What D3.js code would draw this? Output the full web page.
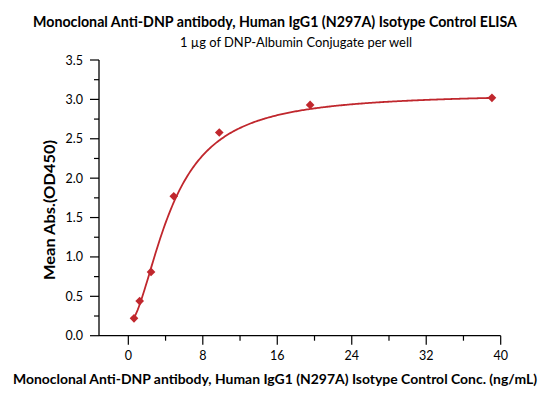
<!DOCTYPE html>
<html>
<head>
<meta charset="utf-8">
<script src="https://cdn.jsdelivr.net/npm/d3@7"></script>
<style>
  html, body { margin: 0; padding: 0; background: #fff; }
  svg { display: block; font-family: Lato, "Open Sans", sans-serif; }
</style>
</head>
<body>
<svg id="chart" width="550" height="393"></svg>
<script>
// ---- data ----
const concentrations = [0.61, 1.22, 2.44, 4.88, 9.77, 19.53, 39.06]; // ng/mL
const meanAbs = [0.22, 0.44, 0.81, 1.77, 2.58, 2.93, 3.02];          // OD450
// 4-parameter logistic fit: bottom, hill slope, EC50, top
const fitBottom = [0.15];
const fitHill = [1.8];
const fitEC50 = [4.6];
const fitTop = [3.08];
const xTicks = [0, 8, 16, 24, 32, 40];
const yTicks = [0.0, 0.5, 1.0, 1.5, 2.0, 2.5, 3.0, 3.5];
const titleText = "Monoclonal Anti-DNP antibody, Human IgG1 (N297A) Isotype Control ELISA";
const subtitleText = "1 \u00b5g of DNP-Albumin Conjugate per well";
const xTitle = "Monoclonal Anti-DNP antibody, Human IgG1 (N297A) Isotype Control Conc. (ng/mL)";
const yTitle = "Mean Abs.(OD450)";

const svg = d3.select("#chart");
const red = "#c0272d";

const x = d3.scaleLinear().domain([-3.15, 40]).range([99, 500.7]);
const y = d3.scaleLinear().domain([0, 3.5]).range([335.7, 60]);

// titles
svg.append("text").attr("x", 275).attr("y", 27).attr("text-anchor", "middle")
  .attr("font-weight", "bold").attr("font-size", 15)
  .attr("textLength", 484).attr("lengthAdjust", "spacingAndGlyphs")
  .text(titleText);
svg.append("text").attr("x", 296).attr("y", 47).attr("text-anchor", "middle")
  .attr("font-size", 12.5)
  .attr("textLength", 232).attr("lengthAdjust", "spacingAndGlyphs")
  .text(subtitleText);

// x axis
const xAxisG = svg.append("g").attr("transform", `translate(0,${y(0)})`);
xAxisG.append("line").attr("x1", x.range()[0]).attr("x2", x.range()[1])
  .attr("stroke", "#000").attr("stroke-width", 1.3);
const xMinor = d3.range(4, 40, 8);
xAxisG.selectAll(".xminor").data(xMinor).join("line")
  .attr("x1", d => x(d)).attr("x2", d => x(d)).attr("y1", 0).attr("y2", 5)
  .attr("stroke", "#000").attr("stroke-width", 1.2);
xAxisG.selectAll(".xmajor").data(xTicks).join("line")
  .attr("x1", d => x(d)).attr("x2", d => x(d)).attr("y1", 0).attr("y2", 9)
  .attr("stroke", "#000").attr("stroke-width", 1.2);
xAxisG.selectAll(".xlab").data(xTicks).join("text")
  .attr("x", d => x(d)).attr("y", 24).attr("text-anchor", "middle")
  .attr("font-size", 12.5).text(d => d3.format("d")(d));

// y axis
const yAxisG = svg.append("g").attr("transform", `translate(${x.range()[0]},0)`);
yAxisG.append("line").attr("y1", y(0)).attr("y2", y(3.5))
  .attr("stroke", "#000").attr("stroke-width", 1.3);
const yMinor = d3.range(0.25, 3.5, 0.5);
yAxisG.selectAll(".yminor").data(yMinor).join("line")
  .attr("x1", -5).attr("x2", 0).attr("y1", d => y(d)).attr("y2", d => y(d))
  .attr("stroke", "#000").attr("stroke-width", 1.2);
yAxisG.selectAll(".ymajor").data(yTicks).join("line")
  .attr("x1", -9).attr("x2", 0).attr("y1", d => y(d)).attr("y2", d => y(d))
  .attr("stroke", "#000").attr("stroke-width", 1.2);
yAxisG.selectAll(".ylab").data(yTicks).join("text")
  .attr("x", -16).attr("y", d => y(d) + 4.5).attr("text-anchor", "end")
  .attr("font-size", 12.5).text(d => d3.format(".1f")(d));

// axis titles
svg.append("text").attr("x", 275).attr("y", 384).attr("text-anchor", "middle")
  .attr("font-weight", "bold").attr("font-size", 14)
  .attr("textLength", 524).attr("lengthAdjust", "spacingAndGlyphs")
  .text(xTitle);
svg.append("text").attr("transform", "translate(55,210) rotate(-90)")
  .attr("text-anchor", "middle").attr("font-weight", "bold").attr("font-size", 16)
  .attr("textLength", 140).attr("lengthAdjust", "spacingAndGlyphs")
  .text(yTitle);

// fitted curve
const fit = c => fitTop[0] + (fitBottom[0] - fitTop[0]) / (1 + Math.pow(c / fitEC50[0], fitHill[0]));
const cMin = d3.min(concentrations), cMax = d3.max(concentrations);
const curvePts = d3.range(0, 301).map(i => {
  const c = cMin + (cMax - cMin) * i / 300;
  return [c, fit(c)];
});
svg.append("path").datum(curvePts)
  .attr("d", d3.line().x(d => x(d[0])).y(d => y(d[1])))
  .attr("fill", "none").attr("stroke", red).attr("stroke-width", 1.8);

// points
const pts = concentrations.map((c, i) => ({ c, v: meanAbs[i] }));
svg.selectAll(".pt").data(pts).join("path")
  .attr("d", d3.symbol(d3.symbolDiamond2, 48))
  .attr("transform", d => `translate(${x(d.c)},${y(d.v)})`)
  .attr("fill", red);
</script>
</body>
</html>
